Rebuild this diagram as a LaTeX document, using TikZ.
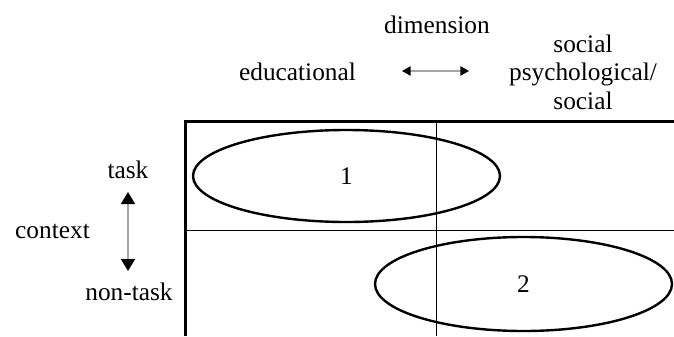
\documentclass[tikz,border=0pt]{standalone}
\usepackage{fontspec}
\setmainfont{Liberation Serif}
\usetikzlibrary{arrows.meta,shapes.geometric}
\tikzset{
  lbl/.style={font=\fontsize{19}{21.4}\selectfont, anchor=base, inner sep=0pt},
  oval/.style={draw, ellipse, line width=1.8pt, inner sep=0pt, font=\fontsize{19}{21.4}\selectfont},
  dimarrow/.style={gray!70, line width=1.1pt, {Triangle[color=black,length=6.5pt,width=7pt]}-{Triangle[color=black,length=6.5pt,width=7pt]}},
  ctxarrow/.style={gray!70, line width=1.4pt, {Triangle[color=black,length=9pt,width=10.5pt]}-{Triangle[color=black,length=9pt,width=10.5pt]}}
}
\begin{document}
\begin{tikzpicture}[x=0.75pt, y=-0.75pt]
  \useasboundingbox (0,0) rectangle (674,336);
  % grid
  \draw[line width=0.75pt] (436.5,121) -- (436.5,336);
  \draw[line width=0.75pt] (185,230) -- (674,230);
  \draw[line width=2.25pt] (674,121) -- (185,121) -- (185,336);
  % the two areas
  \node[oval, minimum width=230.25pt, minimum height=69pt] (area1) at (346.5,176) {1};
  \node[oval, minimum width=222.75pt, minimum height=70.5pt] (area2) at (523.5,284) {2};
  % dimension
  \node[lbl] (dim) at (437,33) {dimension};
  \node[lbl] (edu) at (297.5,80) {educational};
  \node[lbl, anchor=center, align=center] (soc) at (583,72) {social\\psychological/\\social};
  \coordinate (dimL) at (402,71);
  \coordinate (dimR) at (469,71);
  \draw[dimarrow] (dimL) -- (dimR);
  % context
  \node[lbl] (task) at (128,178) {task};
  \node[lbl] (ctx) at (52.5,238) {context};
  \node[lbl] (nontask) at (129,300) {non-task};
  \coordinate (ctxT) at (128,192);
  \coordinate (ctxB) at (128,271);
  \draw[ctxarrow] (ctxT) -- (ctxB);
\end{tikzpicture}
\end{document}
